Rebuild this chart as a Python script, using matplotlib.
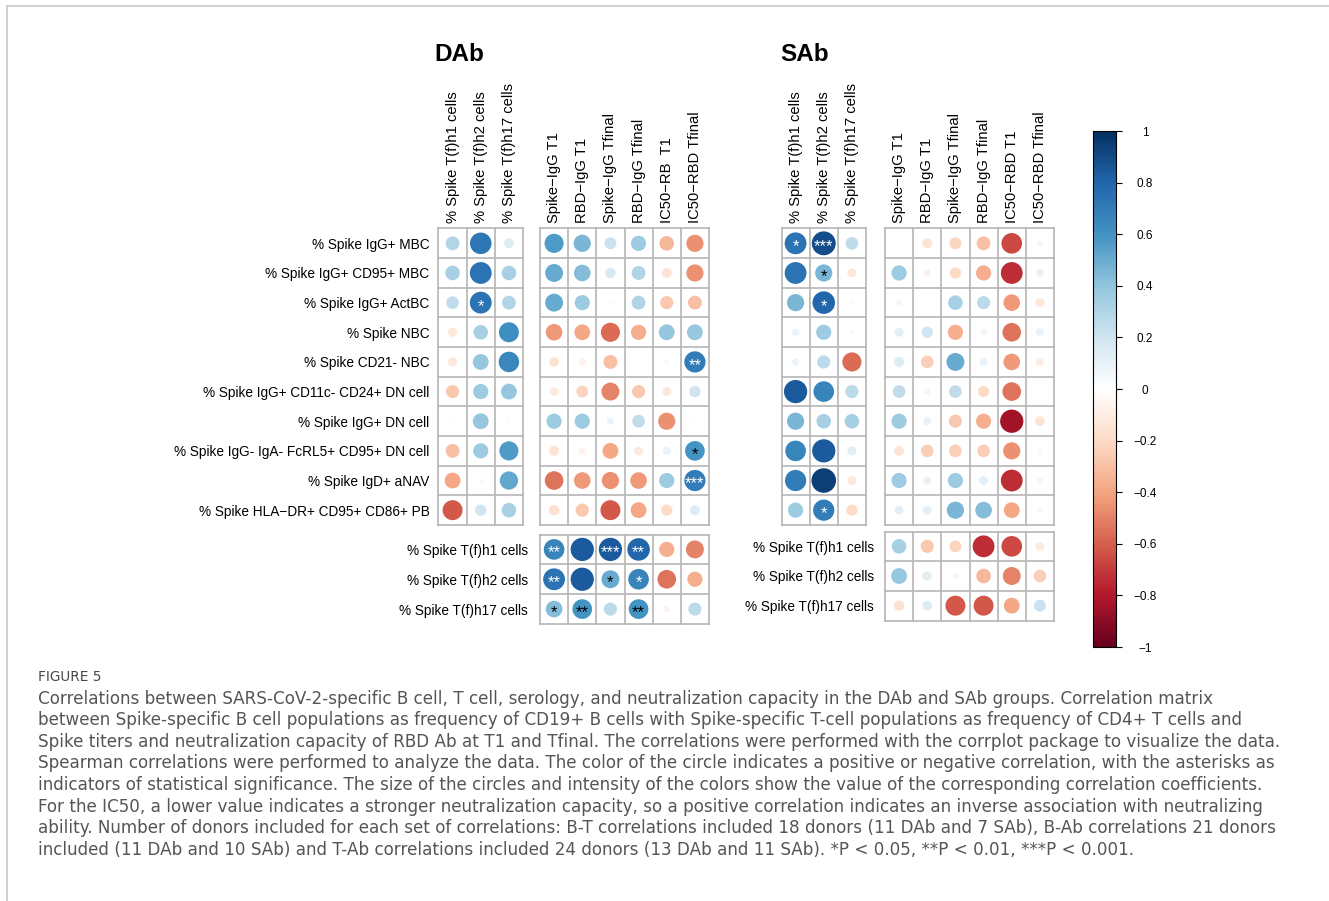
import numpy as np
import matplotlib
matplotlib.use('Agg')
import matplotlib.pyplot as plt
from matplotlib.colors import LinearSegmentedColormap, Normalize
from matplotlib.cm import ScalarMappable
from matplotlib.lines import Line2D

# ---- data ----
b_rows = ['% Spike IgG+ MBC', '% Spike IgG+ CD95+ MBC', '% Spike IgG+ ActBC', '% Spike NBC',
          '% Spike CD21- NBC', '% Spike IgG+ CD11c- CD24+ DN cell', '% Spike IgG+ DN cell',
          '% Spike IgG- IgA- FcRL5+ CD95+ DN cell', '% Spike IgD+ aNAV',
          '% Spike HLA\u2212DR+ CD95+ CD86+ PB']
t_rows = ['% Spike T(f)h1 cells', '% Spike T(f)h2 cells', '% Spike T(f)h17 cells']
t_cols = t_rows
dab_ab_cols = ['Spike\u2212IgG T1', 'RBD\u2212IgG T1', 'Spike\u2212IgG Tfinal', 'RBD\u2212IgG Tfinal',
               'IC50\u2212RB  T1', 'IC50\u2212RBD Tfinal']
sab_ab_cols = ['Spike\u2212IgG T1', 'RBD\u2212IgG T1', 'Spike\u2212IgG Tfinal', 'RBD\u2212IgG Tfinal',
               'IC50\u2212RBD T1', 'IC50\u2212RBD Tfinal']

dab_bt = [[0.30, 0.72, 0.15],
          [0.33, 0.74, 0.33],
          [0.25, 0.74, 0.30],
          [-0.13, 0.33, 0.62],
          [-0.13, 0.39, 0.65],
          [-0.27, 0.36, 0.39],
          [-0.02, 0.39, 0.03],
          [-0.30, 0.36, 0.57],
          [-0.39, -0.04, 0.52],
          [-0.62, 0.20, 0.33]]
dab_bt_sig = [['', '', ''], ['', '', ''], ['', '*', ''], ['', '', ''], ['', '', ''],
              ['', '', ''], ['', '', ''], ['', '', ''], ['', '', ''], ['', '', '']]

dab_ba = [[0.57, 0.46, 0.22, 0.36, -0.33, -0.46],
          [0.50, 0.43, 0.17, 0.30, -0.15, -0.46],
          [0.50, 0.36, 0.03, 0.30, -0.27, -0.30],
          [-0.43, -0.39, -0.57, -0.36, 0.39, 0.39],
          [-0.15, -0.07, -0.30, 0.0, 0.04, 0.70],
          [-0.12, -0.22, -0.50, -0.27, -0.13, 0.20],
          [0.36, 0.36, 0.08, 0.25, -0.46, -0.02],
          [-0.15, -0.07, -0.39, -0.12, 0.10, 0.60],
          [-0.54, -0.43, -0.46, -0.43, 0.36, 0.70],
          [-0.17, -0.27, -0.62, -0.39, -0.20, 0.15]]
dab_ba_sig = [[''] * 6, [''] * 6, [''] * 6, [''] * 6,
              ['', '', '', '', '', '**'], [''] * 6, [''] * 6,
              ['', '', '', '', '', '*'], ['', '', '', '', '', '***'], [''] * 6]

dab_ta = [[0.66, 0.84, 0.84, 0.79, -0.36, -0.50],
          [0.74, 0.84, 0.50, 0.66, -0.54, -0.36],
          [0.43, 0.60, 0.27, 0.60, -0.07, 0.27]]
dab_ta_sig = [['**', '', '***', '**', '', ''],
              ['**', '', '*', '*', '', ''],
              ['*', '**', '', '**', '', '']]

sab_bt = [[0.74, 0.89, 0.25],
          [0.74, 0.46, -0.13],
          [0.46, 0.79, 0.03],
          [0.08, 0.36, -0.04],
          [0.08, 0.27, -0.57],
          [0.84, 0.66, 0.27],
          [0.46, 0.33, 0.33],
          [0.66, 0.84, 0.13],
          [0.70, 0.94, -0.13],
          [0.36, 0.70, -0.20]]
sab_bt_sig = [['*', '***', ''], ['', '*', ''], ['', '*', ''], ['', '', ''], ['', '', ''],
              ['', '', ''], ['', '', ''], ['', '', ''], ['', '', ''], ['', '*', '']]

sab_ba = [[0.01, -0.15, -0.22, -0.30, -0.66, -0.06],
          [0.36, -0.08, -0.20, -0.36, -0.74, 0.10],
          [-0.06, 0.0, 0.33, 0.27, -0.43, -0.13],
          [0.12, 0.20, -0.36, 0.07, -0.54, 0.10],
          [0.15, -0.25, 0.50, 0.10, -0.43, -0.10],
          [0.25, -0.07, 0.25, -0.20, -0.54, 0.005],
          [0.36, 0.10, -0.27, -0.36, -0.84, -0.15],
          [-0.15, -0.25, -0.25, -0.25, -0.46, -0.04],
          [0.36, 0.10, 0.36, 0.12, -0.74, -0.07],
          [0.12, 0.12, 0.46, 0.43, -0.39, -0.04]]

sab_ta = [[0.33, -0.27, -0.22, -0.74, -0.66, -0.12],
          [0.39, 0.13, 0.06, -0.33, -0.50, -0.25],
          [-0.17, 0.15, -0.62, -0.62, -0.39, 0.22]]

cbar_ticks = [-1, -0.8, -0.6, -0.4, -0.2, 0, 0.2, 0.4, 0.6, 0.8, 1]

caption = [
    'Correlations between SARS-CoV-2-specific B cell, T cell, serology, and neutralization capacity in the DAb and SAb groups. Correlation matrix',
    'between Spike-specific B cell populations as frequency of CD19+ B cells with Spike-specific T-cell populations as frequency of CD4+ T cells and',
    'Spike titers and neutralization capacity of RBD Ab at T1 and Tfinal. The correlations were performed with the corrplot package to visualize the data.',
    'Spearman correlations were performed to analyze the data. The color of the circle indicates a positive or negative correlation, with the asterisks as',
    'indicators of statistical significance. The size of the circles and intensity of the colors show the value of the corresponding correlation coefficients.',
    'For the IC50, a lower value indicates a stronger neutralization capacity, so a positive correlation indicates an inverse association with neutralizing',
    'ability. Number of donors included for each set of correlations: B-T correlations included 18 donors (11 DAb and 7 SAb), B-Ab correlations 21 donors',
    'included (11 DAb and 10 SAb) and T-Ab correlations included 24 donors (13 DAb and 11 SAb). *P < 0.05, **P < 0.01, ***P < 0.001.',
]

# ---- style ----
W, H = 1329, 901
plt.rcParams['font.family'] = ['Liberation Sans', 'DejaVu Sans']
cmap = LinearSegmentedColormap.from_list('corr', ['#67001F', '#B2182B', '#D6604D', '#F4A582', '#FDDBC7',
                                                  '#FFFFFF', '#D1E5F0', '#92C5DE', '#4393C3', '#2166AC',
                                                  '#053061'])
grid_c = '#b5b5b5'
col_fs = 10.6
row_fs = 9.8

fig = plt.figure(figsize=(W / 100, H / 100), dpi=100)


def px_axes(x0, y0, x1, y1):
    return fig.add_axes([x0 / W, 1 - y1 / H, (x1 - x0) / W, (y1 - y0) / H])


def draw_block(ax, vals, sig=None, rows=None, cols=None, row_pad=6.5):
    vals = np.array(vals, dtype=float)
    nr, nc = vals.shape
    cell_pt = ax.get_position().width * W / nc * 0.72
    xx, yy = np.meshgrid(np.arange(nc) + 0.5, np.arange(nr) + 0.5)
    sizes = (0.9 * np.sqrt(np.abs(vals)) * cell_pt) ** 2
    ax.scatter(xx.ravel(), yy.ravel(), s=sizes.ravel(), c=vals.ravel(), cmap=cmap,
               vmin=-1, vmax=1, linewidths=0, zorder=2)
    ax.set_xlim(0, nc)
    ax.set_ylim(nr, 0)
    for k in range(nr + 1):
        ax.axhline(k, color=grid_c, lw=1.2, clip_on=False, zorder=1)
    for k in range(nc + 1):
        ax.axvline(k, color=grid_c, lw=1.2, clip_on=False, zorder=1)
    for s in ax.spines.values():
        s.set_visible(False)
    if sig is not None:
        for i in range(nr):
            for j in range(nc):
                if sig[i][j]:
                    col = 'white' if abs(vals[i, j]) > 0.63 else 'black'
                    ax.text(j + 0.5, i + 0.62, sig[i][j], ha='center', va='center',
                            fontsize=12, color=col, zorder=3)
    ax.xaxis.tick_top()
    if cols is not None:
        ax.set_xticks(np.arange(nc) + 0.5, cols, rotation=90, fontsize=col_fs)
    else:
        ax.set_xticks([])
    if rows is not None:
        ax.set_yticks(np.arange(nr) + 0.5, rows, fontsize=row_fs)
    else:
        ax.set_yticks([])
    ax.tick_params(length=0, axis='x', pad=4)
    ax.tick_params(length=0, axis='y', pad=row_pad)


# DAb
ax = px_axes(438.5, 228.5, 523, 525)
draw_block(ax, dab_bt, dab_bt_sig, rows=b_rows, cols=t_cols)
ax = px_axes(540, 228.5, 709, 525)
draw_block(ax, dab_ba, dab_ba_sig, cols=dab_ab_cols)
ax = px_axes(540, 534.5, 709, 624)
draw_block(ax, dab_ta, dab_ta_sig, rows=t_rows, row_pad=8.5)

# SAb
ax = px_axes(781.5, 228.5, 866, 525)
draw_block(ax, sab_bt, sab_bt_sig, cols=t_cols)
ax = px_axes(885, 228.5, 1054, 525)
draw_block(ax, sab_ba, cols=sab_ab_cols)
ax = px_axes(885, 531.5, 1054, 620.5)
draw_block(ax, sab_ta, rows=t_rows, row_pad=8)

fig.text(459 / W, 1 - 61 / H, 'DAb', ha='center', va='baseline', fontsize=17.5, fontweight='bold')
fig.text(805 / W, 1 - 61 / H, 'SAb', ha='center', va='baseline', fontsize=17.5, fontweight='bold')

# colorbar
cax = px_axes(1093, 131, 1116, 647)
cb = fig.colorbar(ScalarMappable(norm=Normalize(-1, 1), cmap=cmap), cax=cax)
cb.outline.set_linewidth(0.8)
cb.outline.set_edgecolor('black')
cax.set_yticks(cbar_ticks, [('\u2212' if t < 0 else '') + ('%g' % abs(t)) for t in cbar_ticks])
cax.tick_params(length=4, width=0.8, pad=17, labelsize=8.5)
for lab in cax.get_yticklabels():
    lab.set_horizontalalignment('center')

# caption
cap_font = ['DejaVu Sans']
fig.text(38 / W, 1 - 681 / H, 'FIGURE 5', ha='left', va='baseline', fontsize=9.8,
         family=cap_font, color='#474747')
for k, line in enumerate(caption):
    fig.text(38 / W, 1 - (703.5 + 21.6 * k) / H, line, ha='left', va='baseline', fontsize=12.1,
             family=cap_font, color='#555555')

# frame lines
fig.add_artist(Line2D([7 / W, 7 / W], [0, 1 - 6 / H], transform=fig.transFigure, color='#c8c8c8', lw=1.2))
fig.add_artist(Line2D([7 / W, 1], [1 - 6 / H, 1 - 6 / H], transform=fig.transFigure, color='#c8c8c8', lw=1.2))

fig.savefig('out.png', dpi=100, facecolor='white')
